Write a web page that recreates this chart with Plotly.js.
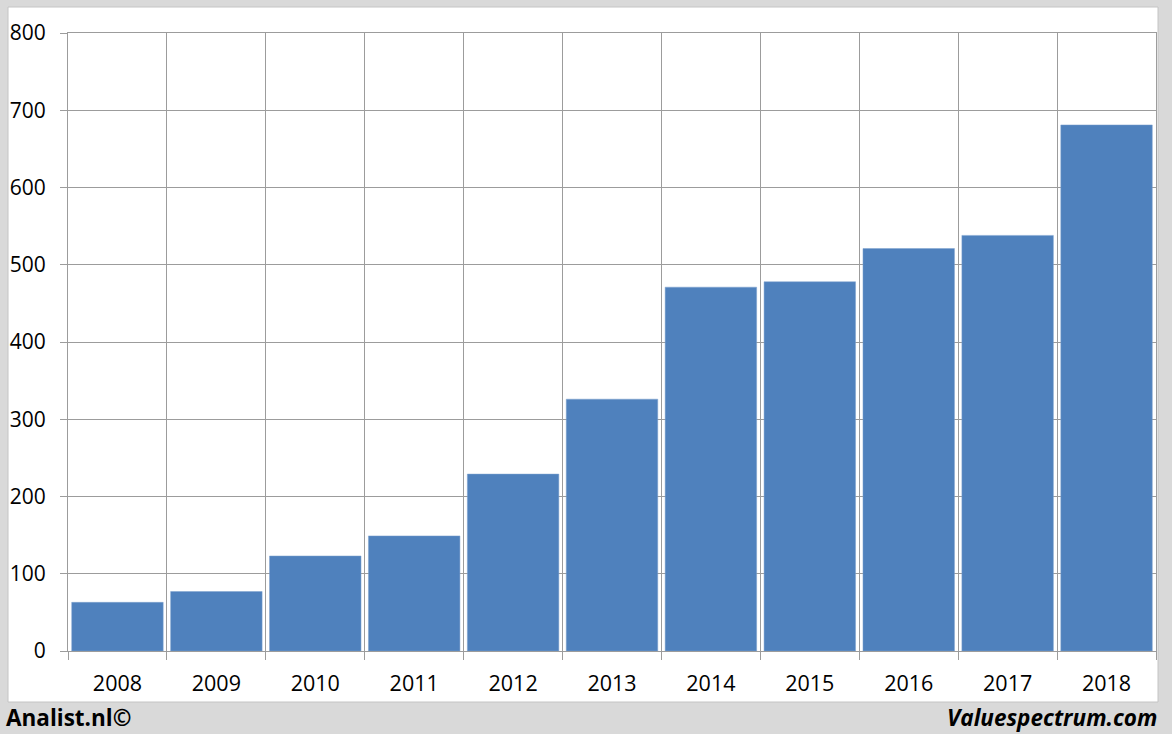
<!DOCTYPE html>
<html>
<head>
<meta charset="utf-8">
<script src="https://cdn.plot.ly/plotly-3.0.1.min.js"></script>
<style>
  html, body { margin: 0; padding: 0; background: #d9d9d9; }
  #chart { width: 1172px; height: 734px; }
</style>
</head>
<body>
<div id="chart"></div>
<script>
const years = ["2008","2009","2010","2011","2012","2013","2014","2015","2016","2017","2018"];
const values = [63, 77, 123, 149, 229, 326, 471, 478, 521, 538, 681];
const yTicks = [0, 100, 200, 300, 400, 500, 600, 700, 800];
const leftCredit = "Analist.nl©";
const rightCredit = "Valuespectrum.com";

const W = 1172, H = 734;
const m = {l: 68, r: 16, t: 33, b: 83};
const pw = W - m.l - m.r, ph = H - m.t - m.b;
const px = x => (x - m.l) / pw;
const py = y => (H - m.b - y) / ph;

const gridCol = "#9c9c9c";

const trace = {
  type: "bar",
  x: years,
  y: values,
  marker: {color: "#4f81bd", line: {color: "#7fa2cf", width: 0.5}},
  hoverinfo: "x+y"
};

const layout = {
  width: W, height: H,
  margin: m,
  paper_bgcolor: "#d9d9d9",
  plot_bgcolor: "#ffffff",
  showlegend: false,
  bargap: 0.075,
  font: {family: "Open Sans, Noto Sans, DejaVu Sans, sans-serif", color: "#000"},
  xaxis: {
    type: "category",
    tickson: "boundaries",
    ticks: "outside", ticklen: 8, tickcolor: gridCol, tickwidth: 1,
    showgrid: true, gridcolor: gridCol, gridwidth: 1,
    showline: true, linecolor: gridCol, linewidth: 1, mirror: true,
    tickfont: {size: 21.5, color: "#000"},
    ticklabelstandoff: 13,
    fixedrange: true
  },
  yaxis: {
    range: [0, 800],
    tickvals: yTicks,
    ticktext: yTicks.map(String),
    ticks: "outside", ticklen: 7, tickcolor: gridCol, tickwidth: 1,
    showgrid: true, gridcolor: gridCol, gridwidth: 1,
    zeroline: false,
    showline: true, linecolor: gridCol, linewidth: 1, mirror: true,
    tickfont: {size: 21, color: "#000"},
    ticklabelstandoff: 10,
    fixedrange: true
  },
  shapes: [{
    type: "rect", layer: "below",
    xref: "paper", yref: "paper",
    x0: px(8), x1: px(1158), y0: py(702), y1: py(7),
    fillcolor: "#ffffff",
    line: {color: "#c4c4c4", width: 1}
  }],
  annotations: [
    {
      text: "<b>" + leftCredit + "</b>",
      xref: "paper", yref: "paper",
      x: px(4), y: py(717),
      xanchor: "left", yanchor: "middle",
      showarrow: false,
      font: {size: 22.5, color: "#000", family: "Open Sans, Noto Sans, sans-serif"}
    },
    {
      text: "<b><i>" + rightCredit + "</i></b>",
      xref: "paper", yref: "paper",
      x: px(1159), y: py(717),
      xanchor: "right", yanchor: "middle",
      showarrow: false,
      font: {size: 22.5, color: "#000", family: "Open Sans, Noto Sans, sans-serif"}
    }
  ]
};

Plotly.newPlot("chart", [trace], layout, {displayModeBar: false, staticPlot: true});
</script>
</body>
</html>
